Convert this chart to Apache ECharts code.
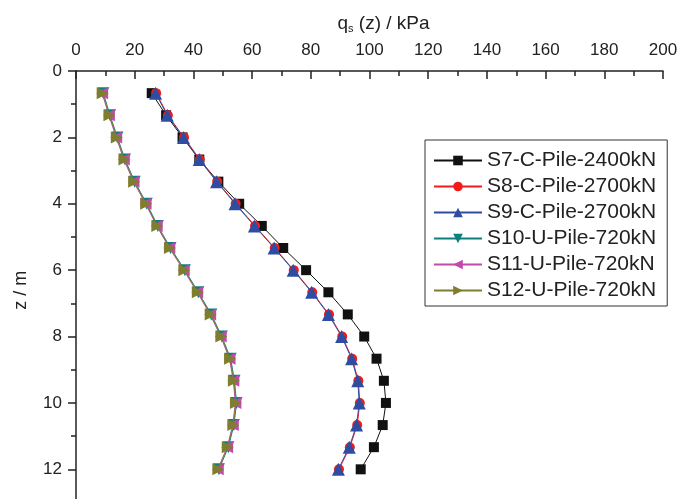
<!DOCTYPE html>
<html>
<head>
<meta charset="utf-8">
<script src="https://cdn.jsdelivr.net/npm/echarts@6/dist/echarts.min.js"></script>
<style>
  html, body { margin: 0; padding: 0; background: #fff; }
  #chart { width: 681px; height: 499px; }
</style>
</head>
<body>
<div id="chart"></div>
<script>
// depth of each measuring point (m)
const depths = [0.667, 1.333, 2, 2.667, 3.333, 4, 4.667, 5.333, 6, 6.667,
  7.333, 8, 8.667, 9.333, 10, 10.667, 11.333, 12];

// unit shaft resistance qs(z), kPa
const s7 = [25.8, 30.7, 36.3, 42.0, 48.5, 55.6, 63.3, 70.6, 78.4, 86.0,
  92.6, 98.2, 102.4, 104.9, 105.6, 104.5, 101.5, 97.0];
const s8 = [27.3, 31.3, 36.8, 42.2, 48.1, 54.4, 61.0, 67.7, 74.2, 80.5,
  86.2, 90.7, 94.1, 96.2, 96.7, 95.8, 93.3, 89.6];
const s9 = [27.1, 31.1, 36.6, 42.0, 47.9, 54.2, 60.8, 67.5, 74.0, 80.3,
  86.0, 90.5, 93.9, 96.0, 96.5, 95.6, 93.1, 89.4];
const s10 = [9.3, 11.6, 14.1, 16.7, 20.0, 24.1, 27.9, 32.2, 37.1, 41.7,
  46.1, 49.7, 52.7, 54.0, 54.7, 53.8, 51.9, 48.7];
const s11 = [8.9, 11.2, 13.7, 16.3, 19.6, 23.7, 27.5, 31.8, 36.7, 41.3,
  45.7, 49.3, 52.3, 53.6, 54.3, 53.4, 51.5, 48.3];
const s12 = [9.1, 11.4, 13.9, 16.5, 19.8, 23.9, 27.7, 32.0, 36.9, 41.5,
  45.9, 49.5, 52.5, 53.8, 54.5, 53.6, 51.7, 48.5];

const names = ['S7-C-Pile-2400kN', 'S8-C-Pile-2700kN', 'S9-C-Pile-2700kN',
  'S10-U-Pile-720kN', 'S11-U-Pile-720kN', 'S12-U-Pile-720kN'];
const values = [s7, s8, s9, s10, s11, s12];
const colors = ['#111111', '#F21A1A', '#2F4CA3', '#0E7F7F', '#C24AA8', '#7E7E2E'];
const symbols = ['rect', 'circle', 'triangle', 'triangle', 'triangle', 'triangle'];
const sizes = [10, 10, 13, 12, 12, 12];
const rotates = [0, 0, 0, 180, 90, -90];

const font = 'Liberation Sans, Arial, sans-serif';

const chart = echarts.init(document.getElementById('chart'));

const series = names.map((name, i) => ({
  name: name,
  type: 'line',
  data: values[i].map((v, k) => [v, depths[k]]),
  symbol: symbols[i],
  symbolSize: sizes[i],
  symbolRotate: rotates[i],
  showAllSymbol: true,
  color: colors[i],
  lineStyle: { color: colors[i], width: 1 },
  itemStyle: { color: colors[i] },
  emphasis: { disabled: true },
  animation: false,
  z: 2 + i
}));

const option = {
  backgroundColor: '#fff',
  animation: false,
  textStyle: { fontFamily: font },
  // grid runs past the bottom edge, the axis is cut off like in the figure
  grid: { left: 76, right: 18, top: 71, height: 464.7, outerBoundsMode: 'none', containLabel: false },
  legend: {
    orient: 'vertical',
    left: 425,
    top: 140,
    padding: [10, 11, 5, 8],
    itemGap: 5,
    itemWidth: 48,
    itemHeight: 12,
    borderColor: '#333',
    borderWidth: 1,
    backgroundColor: '#fff',
    textStyle: { fontFamily: font, fontSize: 21, color: '#222' },
    data: names
  },
  xAxis: {
    type: 'value',
    position: 'top',
    min: 0,
    max: 200,
    interval: 20,
    name: 'q{sub|s} (z) / kPa',
    nameLocation: 'middle',
    nameGap: 37,
    nameTextStyle: {
      fontFamily: font, fontSize: 19, color: '#222', padding: [0, 0, 0, 28],
      rich: { sub: { fontFamily: font, fontSize: 11, color: '#222', verticalAlign: 'bottom', padding: [10, 0, 0, 0] } }
    },
    axisLine: { show: true, lineStyle: { color: '#222', width: 1.5 } },
    axisTick: { show: true, inside: true, length: 8, lineStyle: { color: '#222', width: 1.5 } },
    minorTick: { show: true, splitNumber: 2, length: 5, lineStyle: { color: '#222', width: 1.5 } },
    axisLabel: { fontFamily: font, fontSize: 17, color: '#222', margin: 12 },
    splitLine: { show: false }
  },
  yAxis: {
    type: 'value',
    inverse: true,
    min: 0,
    max: 14,
    interval: 2,
    name: 'z / m',
    nameLocation: 'middle',
    nameGap: 46,
    nameTextStyle: { fontFamily: font, fontSize: 18, color: '#222', padding: [0, 0, 0, 26] },
    axisLine: { show: true, lineStyle: { color: '#222', width: 1.5 } },
    axisTick: { show: true, inside: false, length: 8, lineStyle: { color: '#222', width: 1.5 } },
    minorTick: { show: true, splitNumber: 2, length: 5, lineStyle: { color: '#222', width: 1.5 } },
    axisLabel: { fontFamily: font, fontSize: 17, color: '#222', margin: 14 },
    splitLine: { show: false }
  },
  series: series
};

chart.setOption(option);
</script>
</body>
</html>
